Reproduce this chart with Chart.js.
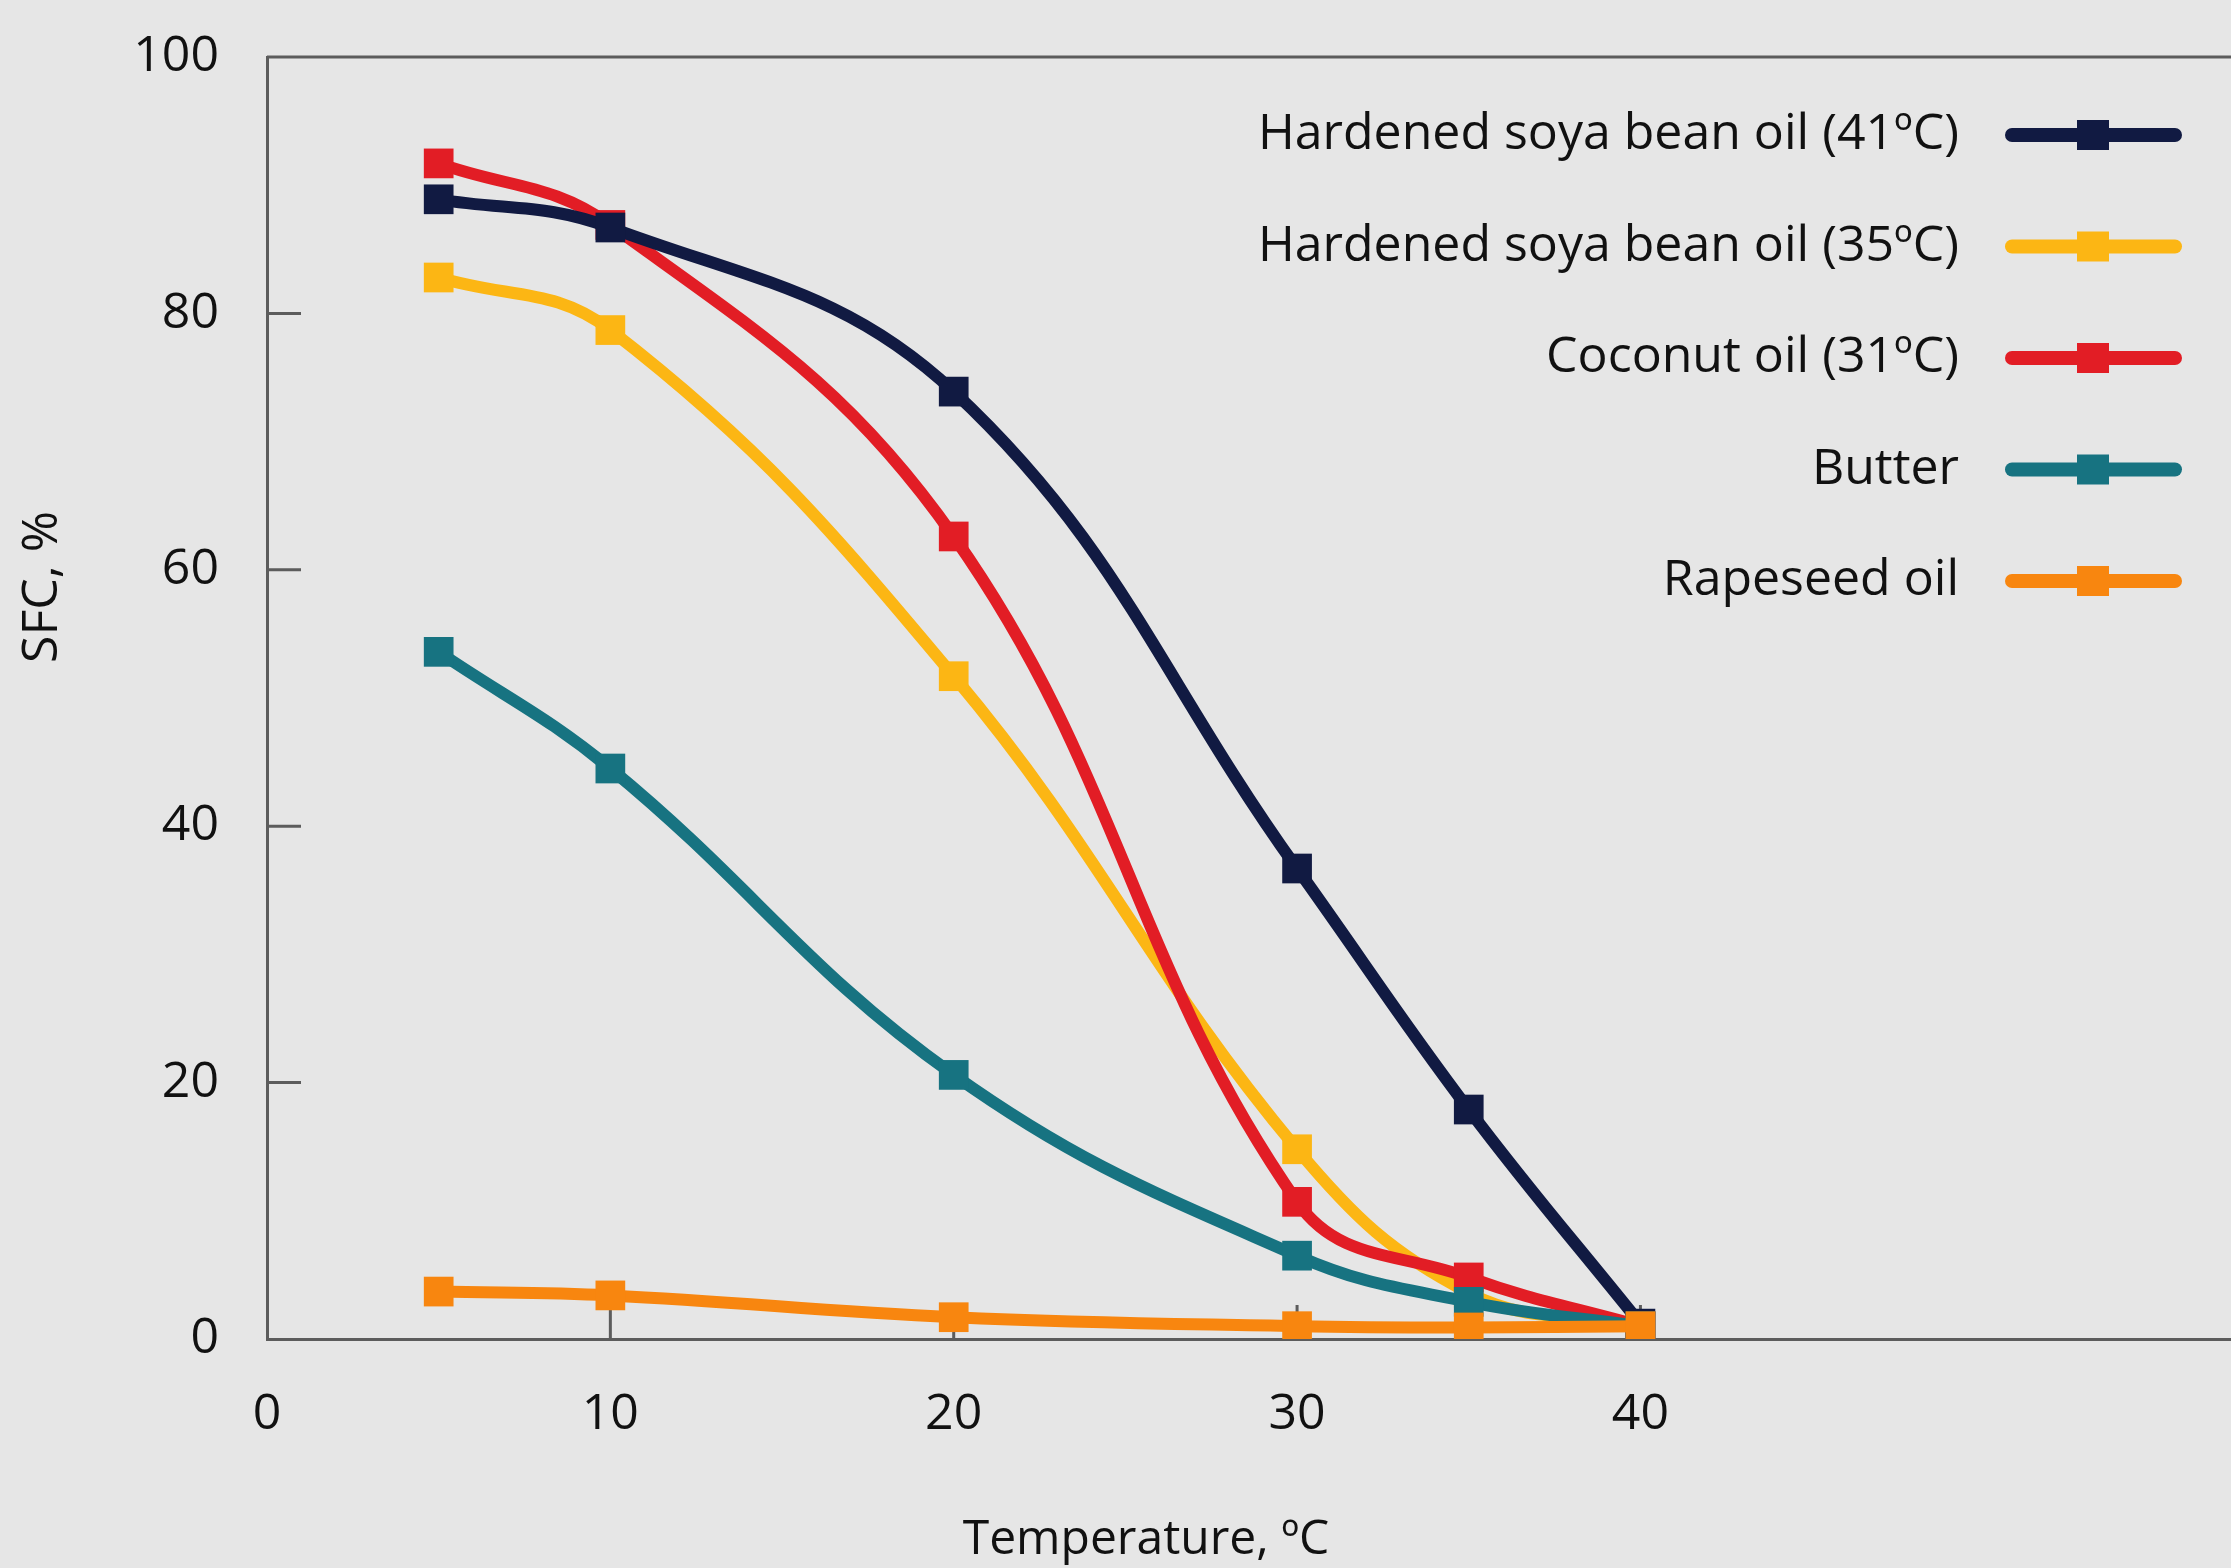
<!DOCTYPE html>
<html lang="en">
<head>
  <meta charset="UTF-8">
  <title>SFC vs Temperature</title>
  <script src="https://cdn.jsdelivr.net/npm/chart.js"></script>
  <style>
    body {
      margin: 0;
      background: #e6e6e6;
      overflow: hidden;
    }

    canvas {
      display: block;
    }
  </style>
</head>
<body>

  <!-- 21px wider than the window: Chart.js keeps point-radius padding on the right -->
  <canvas id="sfcChart" width="2252" height="1568"></canvas>

  <script>
    const temps = [5, 10, 20, 30, 35, 40];
    const soya41 = [88.9, 86.7, 73.9, 36.7, 17.9, 1.2];
    const soya35 = [82.8, 78.7, 51.7, 14.8, 3.6, 1.0];
    const coconut = [91.7, 86.9, 62.6, 10.7, 4.8, 1.0];
    const butter = [53.6, 44.5, 20.6, 6.5, 2.9, 1.0];
    const rapeseed = [3.7, 3.4, 1.7, 1.0, 0.9, 1.0];

    const names = [
      'Hardened soya bean oil (41ºC)',
      'Hardened soya bean oil (35ºC)',
      'Coconut oil (31ºC)',
      'Butter',
      'Rapeseed oil'
    ];
    const xTicks = [0, 10, 20, 30, 40];
    const yTicks = [0, 20, 40, 60, 80, 100];

    const FONT = "'Open Sans', sans-serif";
    const TEXT = '#111111';
    const AXIS = '#5c5c5c';

    function points(values) {
      return temps.map((t, i) => ({ x: t, y: values[i] }));
    }

    function makeSet(label, values, color, order) {
      return {
        label: label,
        data: points(values),
        borderColor: color,
        backgroundColor: color,
        borderWidth: 12,
        borderCapStyle: 'round',
        tension: 0.4,
        pointStyle: 'rect',
        pointRadius: 21,
        pointBorderWidth: 0,
        pointBackgroundColor: color,
        order: order
      };
    }

    // frame line on top, inner tick marks, axis titles
    const framePlugin = {
      id: 'frame',
      beforeDatasetsDraw(chart) {
        const { ctx, chartArea, scales } = chart;
        ctx.save();
        ctx.strokeStyle = AXIS;
        ctx.lineWidth = 3;
        ctx.beginPath();
        ctx.moveTo(chartArea.left, chartArea.top);
        ctx.lineTo(chartArea.right, chartArea.top);
        xTicks.slice(1).forEach(v => {
          const x = scales.x.getPixelForValue(v);
          ctx.moveTo(x, chartArea.bottom);
          ctx.lineTo(x, chartArea.bottom - 34);
        });
        yTicks.slice(1, -1).forEach(v => {
          const y = scales.y.getPixelForValue(v);
          ctx.moveTo(chartArea.left, y);
          ctx.lineTo(chartArea.left + 34, y);
        });
        ctx.stroke();
        ctx.restore();
      },
      afterDraw(chart) {
        const { ctx } = chart;
        ctx.save();
        ctx.fillStyle = TEXT;
        ctx.font = '48px ' + FONT;
        ctx.textAlign = 'center';
        ctx.textBaseline = 'middle';
        ctx.fillText('Temperature, ºC', 1146, 1540);
        ctx.font = '50px ' + FONT;
        ctx.translate(43, 587);
        ctx.rotate(-Math.PI / 2);
        ctx.fillText('SFC, %', 0, 0);
        ctx.restore();
      }
    };

    // legend: text on the left, line sample with square on the right
    const legendPlugin = {
      id: 'sideLegend',
      afterDraw(chart) {
        const { ctx } = chart;
        ctx.save();
        ctx.font = '50px ' + FONT;
        ctx.textAlign = 'right';
        ctx.textBaseline = 'middle';
        chart.data.datasets.forEach((ds, i) => {
          const y = 135 + i * 111.5;
          ctx.fillStyle = TEXT;
          ctx.fillText(ds.label, 1959, y);
          ctx.strokeStyle = ds.borderColor;
          ctx.lineWidth = 14;
          ctx.lineCap = 'round';
          ctx.beginPath();
          ctx.moveTo(2012, y);
          ctx.lineTo(2175, y);
          ctx.stroke();
          ctx.fillStyle = ds.borderColor;
          ctx.fillRect(2077, y - 15, 32, 30);
        });
        ctx.restore();
      }
    };

    new Chart(document.getElementById('sfcChart'), {
      type: 'line',
      data: {
        datasets: [
          makeSet(names[0], soya41, '#111a42', 2),
          makeSet(names[1], soya35, '#fcb614', 4),
          makeSet(names[2], coconut, '#e21d25', 3),
          makeSet(names[3], butter, '#177381', 1),
          makeSet(names[4], rapeseed, '#f8860f', 0)
        ]
      },
      options: {
        responsive: false,
        animation: false,
        layout: { padding: { top: 57, right: 0, left: 0, bottom: 0 } },
        plugins: {
          legend: { display: false },
          tooltip: { enabled: false }
        },
        scales: {
          x: {
            type: 'linear',
            min: 0,
            max: 57.2,
            afterBuildTicks: s => { s.ticks = xTicks.map(v => ({ value: v })); },
            afterFit: s => {
              s.height = 229;
              s.paddingLeft = 0;
              s.paddingRight = 0;
            },
            grid: { display: false, drawTicks: false },
            border: { display: true, color: AXIS, width: 3 },
            ticks: {
              padding: 46,
              maxRotation: 0,
              color: TEXT,
              font: { family: FONT, size: 50 }
            }
          },
          y: {
            min: 0,
            max: 100,
            afterBuildTicks: s => { s.ticks = yTicks.map(v => ({ value: v })); },
            afterFit: s => {
              s.width = 267;
              s.paddingTop = 0;
              s.paddingBottom = 0;
            },
            grid: { display: false, drawTicks: false },
            border: { display: true, color: AXIS, width: 3 },
            ticks: {
              padding: 48,
              color: TEXT,
              font: { family: FONT, size: 50 }
            }
          }
        }
      },
      plugins: [framePlugin, legendPlugin]
    });
  </script>

</body>
</html>
